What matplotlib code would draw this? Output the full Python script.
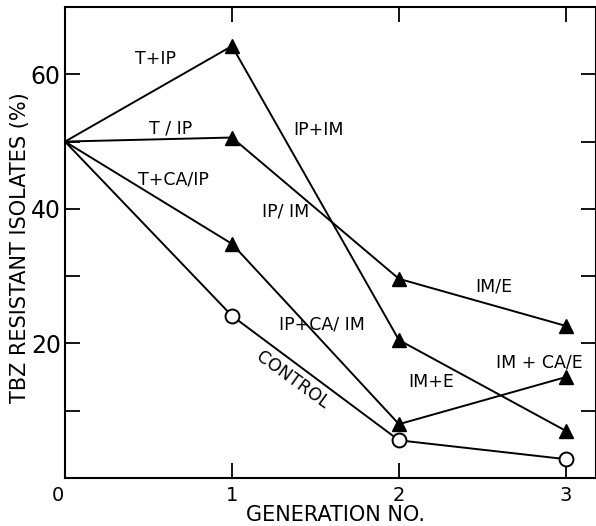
import matplotlib
matplotlib.use("Agg")
import matplotlib.pyplot as plt

# generation number and % TBZ resistant isolates
gen = [0, 1, 2, 3]
t_ip = [50, 64.2, 20.5, 7.0]       # T+IP -> IP+IM -> IM+E
t_slash_ip = [50, 50.6, 29.6, 22.6]  # T/IP -> IP/IM -> IM/E
t_ca_ip = [50, 34.8, 8.0, 15.0]      # T+CA/IP -> IP+CA/IM -> IM+CA/E
control = [50, 24.1, 5.6, 2.8]

labels = ["T+IP", "T / IP", "T+CA/IP", "IP+IM", "IP/ IM", "IP+CA/ IM",
          "CONTROL", "IM/E", "IM + CA/E", "IM+E"]
label_x = [0.54, 0.63, 0.65, 1.52, 1.32, 1.54, 1.36, 2.57, 2.84, 2.19]
label_y = [62.2, 52.0, 44.3, 51.7, 39.6, 22.8, 14.6, 28.4, 17.2, 14.3]
label_rot = [0, 0, 0, 0, 0, 0, -36, 0, 0, 0]

fig = plt.figure(figsize=(5.96, 5.26), dpi=100)
ax = fig.add_axes([65 / 596, 48 / 526, 531 / 596, 471 / 526])

lw = 1.4
for ys in (t_ip, t_slash_ip, t_ca_ip):
    ax.plot(gen, ys, color="black", lw=lw)
    ax.plot(gen[1:], ys[1:], ls="none", marker="^", ms=10, color="black")
ax.plot(gen, control, color="black", lw=lw)
ax.plot(gen[1:], control[1:], ls="none", marker="o", ms=10,
        mfc="white", mec="black", mew=1.4)

for s, x, y, r in zip(labels, label_x, label_y, label_rot):
    ax.text(x, y, s, fontsize=12.5, ha="center", va="center", rotation=r)

ax.set_xlim(0, 3.18)
ax.set_ylim(0, 70)
ax.set_xticks([1, 2, 3])
ax.set_yticks([20, 40, 60])
ax.set_yticks([10, 30, 50], minor=True)
ax.tick_params(axis="both", which="both", direction="in", length=11, width=1.3,
               top=True, right=True)
ax.tick_params(axis="x", pad=6, labelsize=14)
ax.tick_params(axis="y", pad=3, labelsize=17)
ax.annotate("0", xy=(0, 0), xytext=(-5, -6), textcoords="offset points",
            ha="center", va="top", fontsize=14)

for sp in ax.spines.values():
    sp.set_linewidth(1.5)

ax.set_xlabel("GENERATION NO.", fontsize=15, va="center")
ax.xaxis.set_label_coords(0.51, -0.079)
ax.set_ylabel("TBZ RESISTANT ISOLATES (%)", fontsize=15, va="center")
ax.yaxis.set_label_coords(-0.085, 0.49)

fig.savefig("out.png", dpi=100)
